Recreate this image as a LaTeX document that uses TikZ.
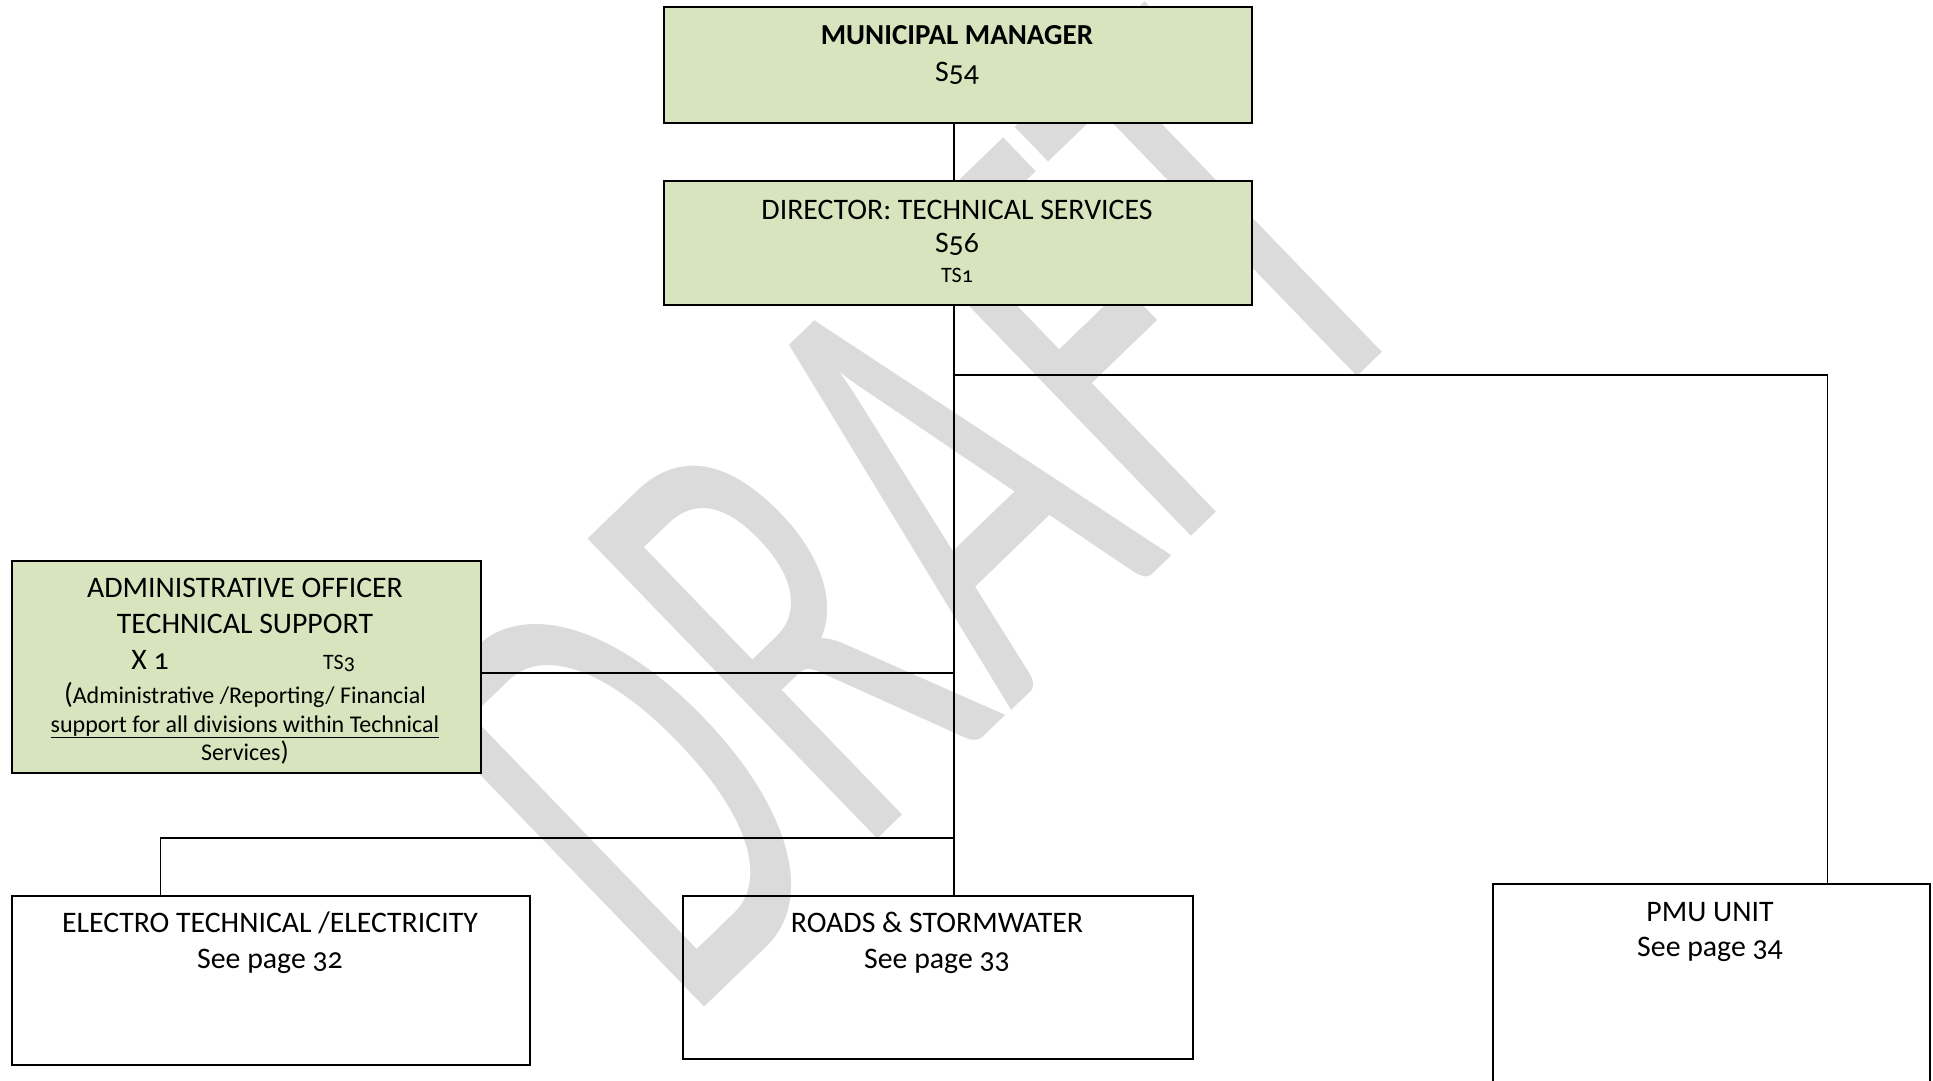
\documentclass[tikz,border=0pt]{standalone}
\usepackage{fontspec}
\setmainfont{Carlito}[Numbers=OldStyle]
\usepackage{graphicx}
\definecolor{boxgreen}{HTML}{D7E4BD}
\definecolor{wmgray}{HTML}{DBDBDB}
\tikzset{
  gbox/.style={draw=black, line width=2pt, fill=boxgreen, anchor=north west, inner sep=0pt},
  wbox/.style={draw=black, line width=2.4pt, anchor=north west, inner sep=0pt},
  conn/.style={draw=black, line width=1.3pt},
  txt/.style={anchor=base, inner sep=0pt, align=center},
  big/.style={font=\fontsize{29.8}{35}\selectfont},
  bigb/.style={font=\fontsize{29}{35}\selectfont\bfseries},
  small/.style={font=\fontsize{22}{26}\selectfont},
  mid/.style={font=\fontsize{24}{28}\selectfont},
  wmark/.style={text=wmgray, inner sep=0pt, font=\fontsize{650}{650}\selectfont}
}
\begin{document}
\begin{tikzpicture}[x=1pt,y=-1pt]
\useasboundingbox (0,0) rectangle (1933,1080);
\fill[white] (0,0) rectangle (1933,1080);
% watermark
\node[wmark, rotate=44] (draft) at (917,512) {\scalebox{0.6}[1]{DRAFT}};
% boxes
\node[gbox, minimum width=588pt, minimum height=116pt] (mm) at (663,6) {};
\node[gbox, minimum width=588pt, minimum height=124pt] (dir) at (663,180) {};
\node[gbox, minimum width=469pt, minimum height=212pt] (adm) at (11,560) {};
\node[wbox, minimum width=518pt, minimum height=169pt] (ele) at (11,895) {};
\node[wbox, minimum width=510pt, minimum height=163pt] (rds) at (682,895) {};
\node[wbox, minimum width=437pt, minimum height=240pt] (pmu) at (1492,883) {};
% connectors
\coordinate (tx) at (954,0);
\coordinate (j1) at (954,375);
\coordinate (j2) at (954,673);
\coordinate (j3) at (954,838);
\draw[conn] (mm.south -| tx) -- (dir.north -| tx);
\draw[conn] (dir.south -| tx) -- (rds.north -| tx);
\draw[conn] (j1) -| ([xshift=116pt]pmu.north);
\draw[conn] (adm.east |- j2) -- (j2);
\draw[conn] (j3) -| ([xshift=-111pt]ele.north);
% texts
\node[txt, bigb] (mm1) at (957,44) {MUNICIPAL MANAGER};
\node[txt, big] (mm2) at (957,81) {S54};
\node[txt, big] (d1) at (957,219) {DIRECTOR: TECHNICAL SERVICES};
\node[txt, big] (d2) at (957,252) {S56};
\node[txt, small] (d3) at (957,282) {TS1};
\node[txt, big] (a1) at (245,597) {ADMINISTRATIVE OFFICER};
\node[txt, big] (a2) at (245,633) {TECHNICAL SUPPORT};
\node[txt, big] (a3) at (150,669) {X 1};
\node[txt, small] (a4) at (339,669) {TS3};
\node[txt, mid] (a5) at (245,703) {{\fontsize{29}{35}\selectfont(}Administrative /Reporting/ Financial};
\node[txt, mid] (a6) at (245,732) {\underline{support for all divisions within Technical}};
\node[txt, mid] (a7) at (245,760) {Services{\fontsize{27}{35}\selectfont)}};
\node[txt, big] (e1) at (270,932) {ELECTRO TECHNICAL /ELECTRICITY};
\node[txt, big] (e2) at (270,968) {See page 32};
\node[txt, big] (r1) at (937,932) {ROADS \& STORMWATER};
\node[txt, big] (r2) at (937,968) {See page 33};
\node[txt, big] (p1) at (1710,921) {PMU UNIT};
\node[txt, big] (p2) at (1710,956) {See page 34};
\end{tikzpicture}
\end{document}
